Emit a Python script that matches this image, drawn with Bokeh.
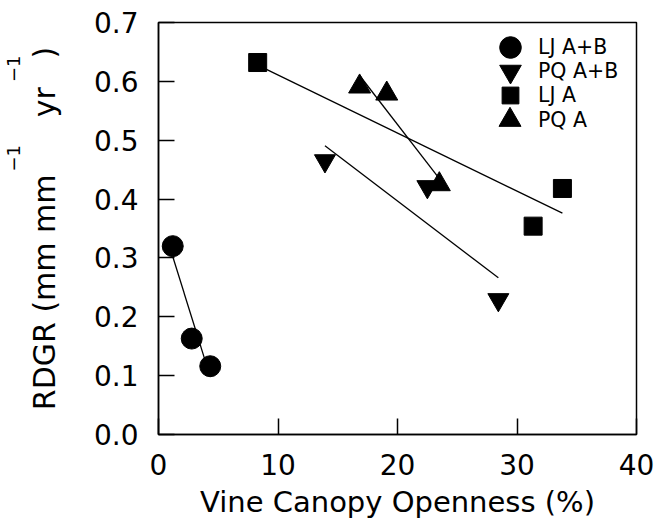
import numpy as np
from bokeh.plotting import figure
from bokeh.models import Legend, LegendItem, FixedTicker, PrintfTickFormatter, Range1d, Title
from bokeh.embed import file_html
from bokeh.resources import INLINE

# ---- data ----
lj_ab_x = [1.19, 2.78, 4.33]
lj_ab_y = [0.320, 0.163, 0.116]
pq_ab_x = [13.93, 22.5, 28.44]
pq_ab_y = [0.465, 0.421, 0.229]
lj_a_x = [8.3, 31.35, 33.8]
lj_a_y = [0.632, 0.354, 0.418]
pq_a_x = [16.83, 19.1, 23.5]
pq_a_y = [0.591, 0.579, 0.425]

series_labels = ["LJ A+B", "PQ A+B", "LJ A", "PQ A"]
x_ticks = [0, 10, 20, 30, 40]
y_ticks = [0.0, 0.1, 0.2, 0.3, 0.4, 0.5, 0.6, 0.7]

FONT = "DejaVu Sans"
NB = "\u00a0"

p = figure(width=665, height=521, x_range=Range1d(0, 40), y_range=Range1d(0, 0.7),
           output_backend="svg", toolbar_location=None,
           min_border_left=157, min_border_right=29, min_border_top=22, min_border_bottom=86)
p.grid.visible = False
p.background_fill_color = "white"
p.border_fill_color = "white"
p.outline_line_color = "black"
p.outline_line_width = 1.5

for ax in (p.xaxis, p.yaxis):
    ax.major_tick_in = 16
    ax.major_tick_out = 0
    ax.minor_tick_in = 0
    ax.minor_tick_out = 0
    ax.axis_line_color = "black"
    ax.axis_line_width = 1.5
    ax.major_tick_line_width = 1.5
    ax.major_tick_line_color = "black"
    ax.major_label_text_font = FONT
    ax.major_label_text_font_size = "28px"
    ax.major_label_text_color = "black"
    ax.axis_label_text_font = FONT
    ax.axis_label_text_font_style = "normal"
    ax.axis_label_text_color = "black"

p.xaxis.ticker = FixedTicker(ticks=x_ticks, minor_ticks=[])
p.yaxis.ticker = FixedTicker(ticks=y_ticks, minor_ticks=[])
p.yaxis.formatter = PrintfTickFormatter(format="%.1f")
p.xaxis.major_label_standoff = 19
p.yaxis.major_label_standoff = 20

p.xaxis.axis_label = "Vine Canopy Openness (%)"
p.xaxis.axis_label_text_font_size = "29px"
p.xaxis.axis_label_standoff = 7

p.yaxis.axis_label = "RDGR (mm mm" + NB * 6 + "yr" + NB * 3 + ")"
p.yaxis.axis_label_text_font_size = "30px"
p.yaxis.axis_label_standoff = 29

# superscripts of the y title
sup = Title(text="\u22121" + NB * 11 + "\u22121", align="left", offset=263, standoff=0,
            text_font=FONT, text_font_size="18px", text_font_style="normal",
            text_color="black")
p.add_layout(sup, "left")

# regression lines
def fit_line(xs, ys):
    m, b = np.polyfit(xs, ys, 1)
    x0, x1 = min(xs), max(xs)
    return [x0, x1], [m * x0 + b, m * x1 + b]

for xs, ys in [(lj_ab_x, lj_ab_y), (pq_ab_x, pq_ab_y), (lj_a_x, lj_a_y), (pq_a_x, pq_a_y)]:
    lx, ly = fit_line(xs, ys)
    p.line(lx, ly, line_color="black", line_width=1.3)

r1 = p.scatter(lj_ab_x, lj_ab_y, marker="circle", size=21, color="black")
r2 = p.scatter(pq_ab_x, pq_ab_y, marker="inverted_triangle", size=21, color="black")
r3 = p.scatter(lj_a_x, lj_a_y, marker="square", size=18, color="black")
r4 = p.scatter(pq_a_x, pq_a_y, marker="triangle", size=22, color="black")

# one single-item legend per series (glyph box sets the marker size: 0.4 * box)
legend_specs = [
    (series_labels[0], r1, 54, (325, 360.5), 1),
    (series_labels[1], r2, 54, (325, 336.5), 1),
    (series_labels[2], r3, 42, (331, 318), 7),
    (series_labels[3], r4, 55, (324, 287), 1),
]
for lab, rend, g, loc, so in legend_specs:
    lg = Legend(items=[LegendItem(label=lab, renderers=[rend])],
                location=loc, glyph_width=g, glyph_height=g, spacing=0,
                padding=0, margin=0, label_standoff=so,
                border_line_color=None, background_fill_alpha=0,
                label_text_font=FONT, label_text_font_size="20.5px",
                label_text_color="black")
    p.add_layout(lg)

open("out.html", "w").write(file_html(p, INLINE))
